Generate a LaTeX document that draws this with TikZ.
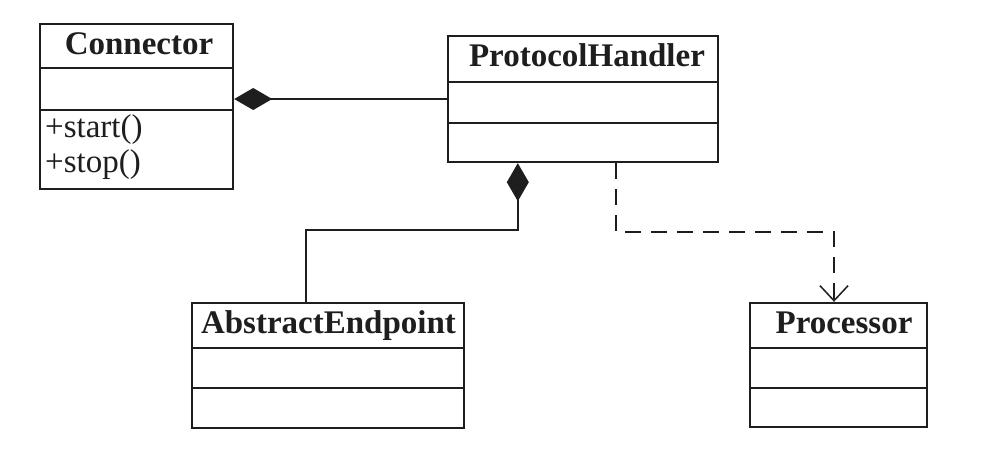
\documentclass[tikz,border=0pt]{standalone}
\usepackage{fontspec}
\setmainfont{Liberation Serif}
\usetikzlibrary{arrows.meta}
\definecolor{ink}{HTML}{1E1E1E}
\begin{document}
\begin{tikzpicture}[x=1pt,y=-1pt,
  classbox/.style={draw=ink,line width=2.4pt,rectangle,inner sep=0pt},
  divider/.style={draw=ink,line width=2.2pt},
  title/.style={anchor=base,inner sep=0pt,text=ink,font=\fontsize{33}{36}\selectfont\bfseries},
  member/.style={anchor=base west,inner sep=0pt,text=ink,font=\fontsize{33}{36}\selectfont},
  comp/.style={draw=ink,line width=1.8pt,{Diamond[length=38pt,width=22pt,fill=ink]}-},
  dep/.style={draw=ink,line width=1.8pt,dash pattern=on 16pt off 10pt,-{Straight Barb[length=15pt,width=28pt,line width=1.5pt]}}
]
\useasboundingbox[fill=white] (0,0) rectangle (1000,456);

% Connector
\node[classbox,minimum width=193pt,minimum height=165pt] (con) at (136.5,106.5) {};
\draw[divider] (40,68) -- (233,68);
\draw[divider] (40,110) -- (233,110);
\node[title] (contitle) at (139,54) {Connector};
\node[member] (start) at (45,137) {+start()};
\node[member] (stop) at (45,172) {+stop()};

% ProtocolHandler
\node[classbox,minimum width=270pt,minimum height=126pt] (ph) at (583,99) {};
\draw[divider] (448,82) -- (718,82);
\draw[divider] (448,123) -- (718,123);
\node[title] (phtitle) at (587,66) {ProtocolHandler};

% AbstractEndpoint
\node[classbox,minimum width=272pt,minimum height=125pt] (ae) at (328,365.5) {};
\draw[divider] (192,348) -- (464,348);
\draw[divider] (192,388) -- (464,388);
\node[title] (aetitle) at (328.5,333) {AbstractEndpoint};

% Processor
\node[classbox,minimum width=177pt,minimum height=124pt] (proc) at (838.5,365) {};
\draw[divider] (750,348) -- (927,348);
\draw[divider] (750,388) -- (927,388);
\node[title] (proctitle) at (844,333) {Processor};

% Connectors
\draw[comp] (con.east |- ph.west) -- (ph.west);
\draw[comp] ([xshift=71pt]ph.south west) -- ++(0pt,-67pt) -| ([xshift=-22pt]ae.north);
\draw[dep] ([xshift=33pt]ph.south) -- ++(0pt,-69pt) -| ([xshift=-4.5pt]proc.north);
\end{tikzpicture}
\end{document}
